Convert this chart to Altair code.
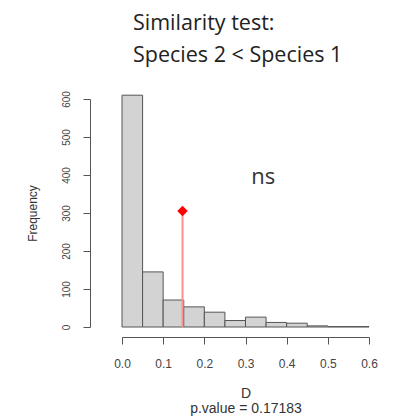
import altair as alt
import pandas as pd

# Histogram of the null distribution of D (bin width 0.05)
bin_start = [0.00, 0.05, 0.10, 0.15, 0.20, 0.25, 0.30, 0.35, 0.40, 0.45, 0.50, 0.55]
bin_end = [0.05, 0.10, 0.15, 0.20, 0.25, 0.30, 0.35, 0.40, 0.45, 0.50, 0.55, 0.60]
counts = [610, 145, 71, 53, 39, 17, 26, 12, 10, 3, 1, 1]

# Observed value
observed_D = [0.147]
observed_height = [305]

# Annotation
annot_text = ["ns"]
annot_x = [0.343]
annot_y = [395]

x_ticks = [0.0, 0.1, 0.2, 0.3, 0.4, 0.5, 0.6]
y_ticks = [0, 100, 200, 300, 400, 500, 600]

hist = pd.DataFrame({"start": bin_start, "end": bin_end, "count": counts,
                     "base": [0] * len(counts)})
obs = pd.DataFrame({"D": observed_D, "h": observed_height, "zero": [0] * len(observed_D)})
ann = pd.DataFrame({"t": annot_text, "x": annot_x, "y": annot_y})

xscale = alt.Scale(domain=[0, 0.6], nice=False, zero=False)
yscale = alt.Scale(domain=[0, 600], nice=False)

xaxis = alt.Axis(
    values=x_ticks, format=".1f", labelFontSize=12, labelPadding=14, offset=10,
    labelFlush=False, labelOverlap=False,
    title=["D", "p.value =  0.17183"], titleFontSize=14, titleFontWeight="normal",
    titleColor="#333333", titleLineHeight=15, titlePadding=17,
)
yaxis = alt.Axis(
    values=y_ticks, labelAngle=270, labelAlign="center", labelBaseline="bottom",
    labelFontSize=10, labelPadding=12, offset=32, labelOverlap=False,
    title="Frequency", titleFontSize=12, titleFontWeight="normal",
    titleColor="#333333", titlePadding=22,
)

bars = alt.Chart(hist).mark_rect(fill="#d3d3d3", stroke="#555555", strokeWidth=1).encode(
    x=alt.X("start:Q", scale=xscale, axis=xaxis),
    x2="end:Q",
    y=alt.Y("count:Q", scale=yscale, axis=yaxis),
    y2="base:Q",
)

rule = alt.Chart(obs).mark_rule(color="#ff8f8f", strokeWidth=2).encode(
    x=alt.X("D:Q", scale=xscale, axis=xaxis),
    y=alt.Y("h:Q", scale=yscale, axis=yaxis),
    y2="zero:Q",
)
point = alt.Chart(obs).mark_point(shape="diamond", filled=True, color="#ff0000", size=110, opacity=1).encode(
    x=alt.X("D:Q", scale=xscale, axis=xaxis),
    y=alt.Y("h:Q", scale=yscale, axis=yaxis),
)
text = alt.Chart(ann).mark_text(font="Open Sans", fontSize=22, color="#333333").encode(
    x=alt.X("x:Q", scale=xscale, axis=xaxis),
    y=alt.Y("y:Q", scale=yscale, axis=yaxis),
    text="t:N",
)

chart = alt.layer(bars, rule, point, text).properties(
    width=247,
    height=228,
    autosize=alt.AutoSizeParams(type="none"),
    padding={"left": 114, "top": 91, "right": 17, "bottom": 91},
    title=alt.TitleParams(
        text="Similarity test:",
        subtitle="Species 2 < Species 1",
        anchor="start", frame="group", font="Open Sans", fontSize=21.5, fontWeight="normal",
        color="#222222", subtitleFont="Open Sans", subtitleFontSize=21.5,
        subtitleColor="#222222", subtitleFontWeight="normal", subtitlePadding=11,
        dx=11, offset=24,
    ),
).configure_axis(
    grid=False, domainColor="#555555", tickColor="#555555", labelColor="#444444",
    tickSize=7, domainWidth=1, tickWidth=1, labelFont="Liberation Sans", titleFont="Liberation Sans",
).configure_view(strokeWidth=0)

chart.save("out.html", embed_options={"renderer": "svg", "actions": False})
